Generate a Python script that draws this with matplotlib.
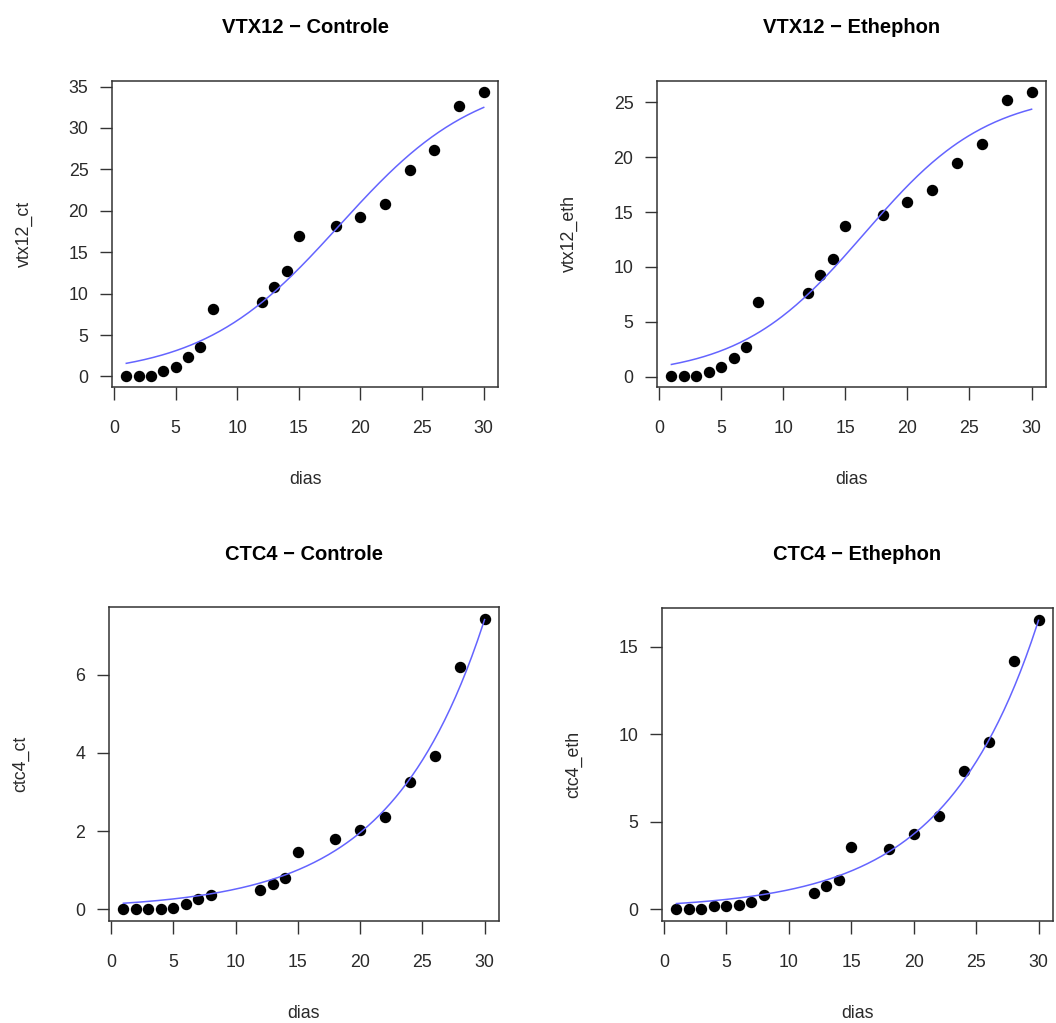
import numpy as np
import matplotlib
matplotlib.use("Agg")
import matplotlib.pyplot as plt

plt.rcParams['font.family'] = ['Liberation Sans', 'DejaVu Sans']

dias = [1, 2, 3, 4, 5, 6, 7, 8, 12, 13, 14, 15, 18, 20, 22, 24, 26, 28, 30]

vtx12_ct = [0.1, 0.1, 0.1, 0.7, 1.2, 2.3, 3.6, 8.2, 9.0, 10.8, 12.7, 16.9,
            18.2, 19.3, 20.8, 24.9, 27.3, 32.6, 34.3]
vtx12_eth = [0.1, 0.1, 0.1, 0.4, 0.9, 1.75, 2.7, 6.85, 7.65, 9.3, 10.75, 13.75,
             14.7, 15.9, 17.0, 19.5, 21.15, 25.2, 25.9]
ctc4_ct = [0.0, 0.0, 0.0, 0.0, 0.03, 0.13, 0.27, 0.37, 0.5, 0.64, 0.8, 1.46,
           1.8, 2.04, 2.35, 3.25, 3.93, 6.2, 7.43]
ctc4_eth = [0.0, 0.0, 0.0, 0.2, 0.17, 0.28, 0.4, 0.82, 0.93, 1.33, 1.66, 3.57,
            3.47, 4.3, 5.35, 7.88, 9.56, 14.2, 16.55]

# fitted model parameters
logis_ct = (36.5, 18.3, 5.6)     # Asym, xmid, scal
logis_eth = (26.0, 16.5, 5.0)
expo_ct = (0.137, 0.133)          # a, b
expo_eth = (0.292, 0.1345)

titles = ["VTX12 \u2212 Controle", "VTX12 \u2212 Ethephon",
          "CTC4 \u2212 Controle", "CTC4 \u2212 Ethephon"]
ylabels = ["vtx12_ct", "vtx12_eth", "ctc4_ct", "ctc4_eth"]
yticks = [[0, 5, 10, 15, 20, 25, 30, 35], [0, 5, 10, 15, 20, 25],
          [0, 2, 4, 6], [0, 5, 10, 15]]
xticks = [0, 5, 10, 15, 20, 25, 30]

W, H = 1056, 1023
fig = plt.figure(figsize=(W / 100, H / 100), dpi=100)
boxes = [(112, 81, 498, 387), (657, 81, 1046, 387),
         (109, 607, 499, 921), (662, 608, 1053, 921)]

xs = np.linspace(1, 30, 200)
def logis(x, p):
    A, m, s = p
    return A / (1 + np.exp(-(x - m) / s))
def expo(x, p):
    a, b = p
    return a * np.exp(b * x)

curves = [logis(xs, logis_ct), logis(xs, logis_eth),
          expo(xs, expo_ct), expo(xs, expo_eth)]
series = [vtx12_ct, vtx12_eth, ctc4_ct, ctc4_eth]

for i in range(4):
    l, t, r, b = boxes[i]
    ax = fig.add_axes([l / W, 1 - b / H, (r - l) / W, (b - t) / H])
    y = series[i]
    ax.plot(dias, y, 'o', color='black', markersize=7.2)
    ax.plot(xs, curves[i], color='#6464ff', lw=1.1)
    xr = 30 - 1
    ax.set_xlim(1 - 0.04 * xr, 30 + 0.04 * xr)
    yr = max(y) - min(y)
    ax.set_ylim(min(y) - 0.04 * yr, max(y) + 0.04 * yr)
    ax.set_xticks(xticks)
    ax.set_yticks(yticks[i])
    ax.tick_params(axis='both', direction='out', length=9, width=1,
                   color='#333333', labelcolor='#2a2a2a', labelsize=12.8)
    ax.tick_params(axis='x', pad=15)
    ax.tick_params(axis='y', pad=8)
    for s in ax.spines.values():
        s.set_color('#333333')
        s.set_linewidth(1.1)
    ax.set_xlabel("dias", fontsize=12.8, color='#2a2a2a')
    ax.xaxis.label.set_va('center')
    ax.xaxis.set_label_coords(0.5, -93 / (b - t))
    ax.set_ylabel(ylabels[i], fontsize=12.8, color='#2a2a2a')
    ax.yaxis.label.set_va('center')
    ax.yaxis.set_label_coords(-88 / (r - l), 0.5)
    ax.text(0.5, 1 + 53 / (b - t), titles[i], transform=ax.transAxes,
            ha='center', va='center', fontsize=14.5, fontweight='bold')

fig.savefig("out.png", dpi=100)
